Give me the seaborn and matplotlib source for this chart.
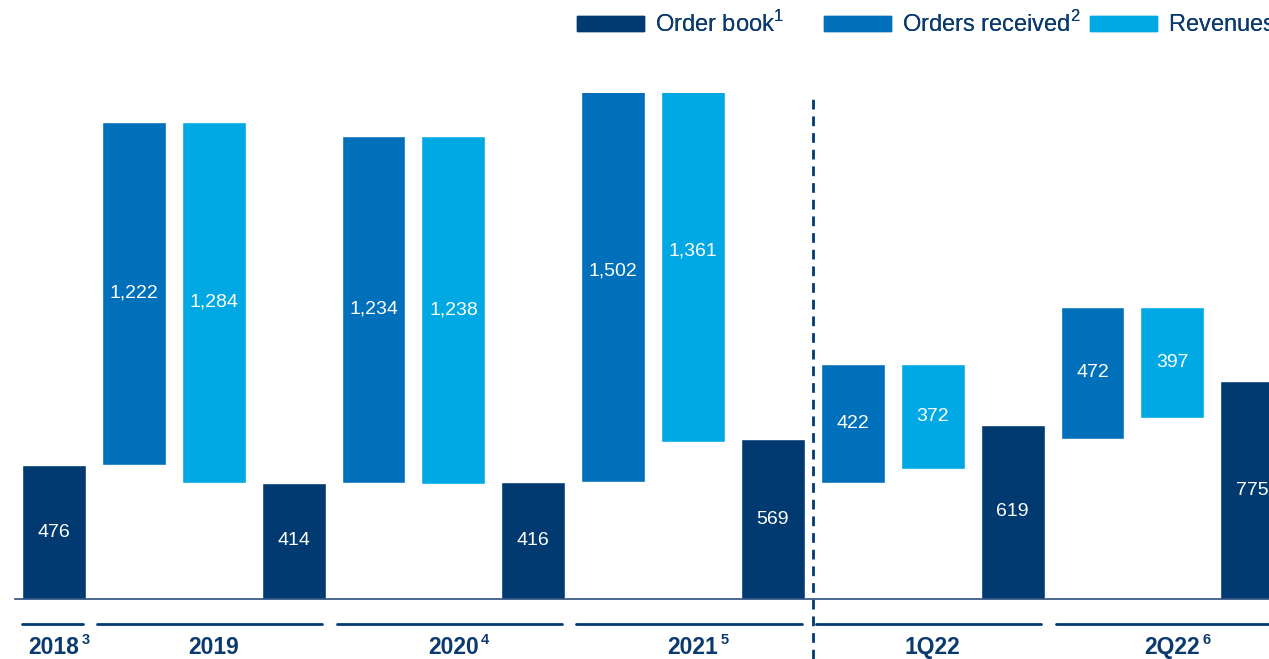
import numpy as np
import pandas as pd
import seaborn as sns
import matplotlib.pyplot as plt
from matplotlib.patches import Patch
from matplotlib import transforms

periods = ["2018", "2019", "2020", "2021", "1Q22", "2Q22"]
notes = ["3", "", "4", "5", "", "6"]
order_book = [476, 414, 416, 569, 619, 775]
orders_received = [1222, 1234, 1502, 422, 472]
revenues = [1284, 1238, 1361, 372, 397]
received_base = [476, 414, 416, 414, 568]
legend_labels = ["Order book$^{1}$", "Orders received$^{2}$", "Revenues$^{3}$"]

navy = "#003A70"
mid_blue = "#0070BA"
light_blue = "#00A8E4"
text_col = "#0B3A6E"

sns.set_theme(style="white")
plt.rcParams["font.family"] = ["Liberation Sans", "DejaVu Sans"]
plt.rcParams["mathtext.fontset"] = "custom"
plt.rcParams["mathtext.rm"] = "Liberation Sans"
plt.rcParams["mathtext.bf"] = "Liberation Sans:bold"

# build bar table: position, bottom, height, kind
rows = [dict(pos=0, bottom=0, height=order_book[0], kind="ob")]
for k in range(1, len(periods)):
    base = received_base[k - 1]
    top = base + orders_received[k - 1]
    rows.append(dict(pos=3 * k - 2, bottom=base, height=orders_received[k - 1], kind="rec"))
    rows.append(dict(pos=3 * k - 1, bottom=top - revenues[k - 1], height=revenues[k - 1], kind="rev"))
    rows.append(dict(pos=3 * k, bottom=0, height=order_book[k], kind="ob"))
bars = pd.DataFrame(rows)
colors = {"ob": navy, "rec": mid_blue, "rev": light_blue}

fig = plt.figure(figsize=(12.69, 6.59), dpi=100)
ax = fig.add_axes([15 / 1269, 60 / 659, 1254 / 1269, 506 / 659])

ax.bar(bars["pos"], bars["height"], bottom=bars["bottom"], width=0.8,
       color=[colors[k] for k in bars["kind"]], zorder=2)
for _, r in bars.iterrows():
    ax.text(r["pos"], r["bottom"] + r["height"] / 2, f"{r['height']:,}",
            color="white", fontsize=14, ha="center", va="center", zorder=3)

ax.set_xlim(-0.488, 15.21)
ax.set_ylim(0, 1800)
ax.set_xticks([])
ax.set_yticks([])
for s in ["top", "left", "right"]:
    ax.spines[s].set_visible(False)
ax.spines["bottom"].set_color("#2B4F7E")
ax.spines["bottom"].set_linewidth(1.2)

trans = transforms.blended_transform_factory(ax.transData, ax.transAxes)

# dashed separator between annual and quarterly figures
ax.plot([9.5, 9.5], [-0.119, 0.992], color=navy, lw=2, ls=(0, (3.5, 2.5)),
        transform=trans, clip_on=False)

# group brackets and labels
for k, (p, n) in enumerate(zip(periods, notes)):
    start = 0 if k == 0 else 3 * k - 2
    end = 3 * k
    ax.plot([start - 0.4 if k == 0 else start - 0.46, end + 0.36], [-0.049, -0.049],
            color=navy, lw=2, transform=trans, clip_on=False)
    lbl = ax.text(0 if k == 0 else 3 * k - 1, -0.096, p,
                  transform=trans, ha="center", va="center", fontsize=16.5,
                  fontweight="bold", color=text_col)
    if n:
        ax.annotate(n, xy=(1, 1), xycoords=lbl, xytext=(1.5, 2), textcoords="offset points",
                    ha="left", va="top", fontsize=10.5, fontweight="bold", color=text_col)

# legend entries sit in fixed slots, like the original slide
for lab, col, x0 in zip(legend_labels, [navy, mid_blue, light_blue], [577, 824, 1090]):
    leg = fig.legend([Patch(color=col)], [lab], loc="upper left",
                     bbox_to_anchor=(x0 / 1269, 1 - 11 / 659), frameon=False,
                     fontsize=17, handlelength=2.85, handleheight=0.62,
                     handletextpad=0.45, borderpad=0, borderaxespad=0,
                     labelcolor=text_col)
    fig.add_artist(leg)

fig.savefig("out.png", dpi=100)
